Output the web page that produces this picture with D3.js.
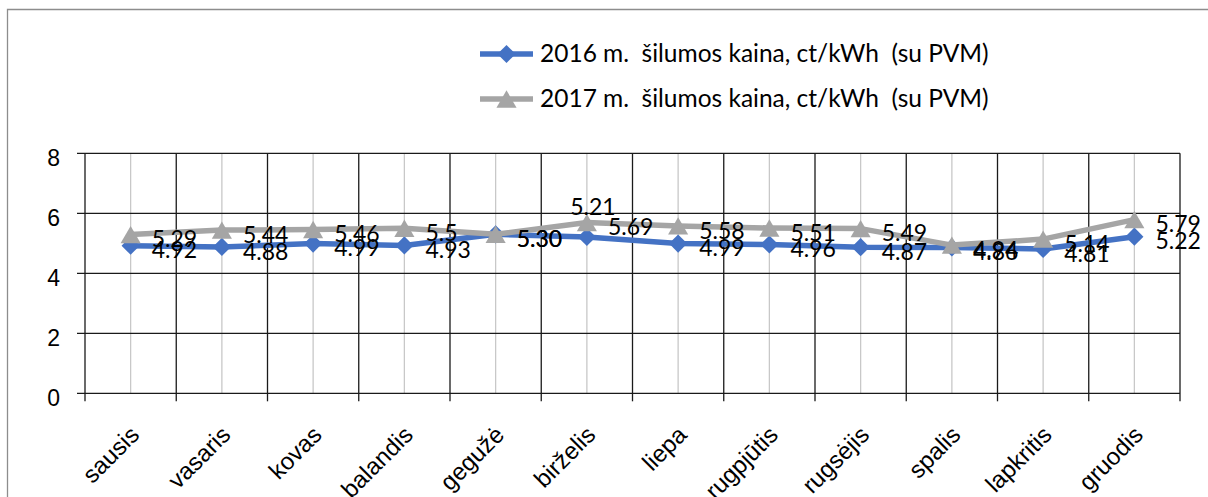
<!DOCTYPE html>
<html>
<head>
<meta charset="utf-8">
<script src="https://cdn.jsdelivr.net/npm/d3@7"></script>
<style>
    html, body { margin: 0; padding: 0; background: #fff; }
    svg { display: block; font-family: Lato, "Open Sans", sans-serif; }
</style>
</head>
<body>
<svg id="chart" width="1208" height="497"></svg>
<script>

// chart data
var months = ["sausis", "vasaris", "kovas", "balandis", "gegužė", "birželis",
              "liepa", "rugpjūtis", "rugsėjis", "spalis", "lapkritis", "gruodis"];
var price2016 = [4.92, 4.88, 4.99, 4.93, 5.30, 5.21, 4.99, 4.96, 4.87, 4.86, 4.81, 5.22];
var price2017 = [5.29, 5.44, 5.46, 5.5, 5.30, 5.69, 5.58, 5.51, 5.49, 4.94, 5.14, 5.79];
var labels2016 = ["4.92", "4.88", "4.99", "4.93", "5.30", "5.21", "4.99", "4.96", "4.87", "4.86", "4.81", "5.22"];
var labels2017 = ["5.29", "5.44", "5.46", "5.5", "5.30", "5.69", "5.58", "5.51", "5.49", "4.94", "5.14", "5.79"];
var yTicks = [0, 2, 4, 6, 8];
var seriesNames = ["2016 m.  šilumos kaina, ct/kWh  (su PVM)",
                   "2017 m.  šilumos kaina, ct/kWh  (su PVM)"];


var draw = {

    svg: null,
    x: null,
    y: null,

    // triangle centred on its bounding box (excel style)
    triangle: {
        draw: function (context, size) {
            var s = Math.sqrt(size * 4 / Math.sqrt(3));
            var h = s * Math.sqrt(3) / 2;
            context.moveTo(0, -h / 2);
            context.lineTo(s / 2, h / 2);
            context.lineTo(-s / 2, h / 2);
            context.closePath();
        }
    },

    index: function () {
        draw.svg = d3.select("#chart");
        draw.x = d3.scaleBand().domain(months).range([85, 1180]);
        draw.y = d3.scaleLinear().domain([0, 8]).range([393.3, 153.3]);

        draw.frame();
        draw.grid();
        draw.axes();

        var series = [
            {name: seriesNames[0], values: price2016, labels: labels2016, color: "#4472C4", marker: "diamond"},
            {name: seriesNames[1], values: price2017, labels: labels2017, color: "#A5A5A5", marker: "triangle"}
        ];
        series.forEach(function (s) { draw.series(s); });
        series.forEach(function (s) { draw.dataLabels(s); });
        draw.legend(series);
    },

    cx: function (m) {
        return draw.x(m) + draw.x.bandwidth() / 2;
    },

    frame: function () {
        draw.svg.append("path")
            .attr("d", "M7.5,497V9.5H1208")
            .attr("fill", "none")
            .attr("stroke", "#8d8d8d")
            .attr("stroke-width", 1.3);
    },

    grid: function () {
        var x = draw.x, y = draw.y;
        var top = y(8), bottom = y(0);

        // light lines at category centres
        draw.svg.append("g").selectAll("line")
            .data(months).enter().append("line")
            .attr("x1", draw.cx).attr("x2", draw.cx)
            .attr("y1", top).attr("y2", bottom)
            .attr("stroke", "#c8c8c8").attr("stroke-width", 1.3);

        // dark lines at category borders, with tick below the axis
        var borders = months.map(function (m) { return x(m); }).concat([x.range()[1]]);
        draw.svg.append("g").selectAll("line")
            .data(borders).enter().append("line")
            .attr("x1", function (d) { return d; }).attr("x2", function (d) { return d; })
            .attr("y1", top).attr("y2", bottom + 8)
            .attr("stroke", "#1a1a1a").attr("stroke-width", 1.3);

        // horizontal lines
        draw.svg.append("g").selectAll("line")
            .data(yTicks).enter().append("line")
            .attr("x1", x.range()[0] - 8).attr("x2", x.range()[1])
            .attr("y1", function (d) { return y(d); }).attr("y2", function (d) { return y(d); })
            .attr("stroke", "#1a1a1a").attr("stroke-width", 1.3);
    },

    axes: function () {
        var yAxis = draw.svg.append("g")
            .attr("transform", "translate(" + draw.x.range()[0] + ",0)")
            .call(d3.axisLeft(draw.y).tickValues(yTicks).tickSize(0).tickPadding(25));
        yAxis.select(".domain").remove();
        yAxis.selectAll("text")
            .attr("font-family", null)
            .attr("font-size", 23)
            .attr("fill", "#000")
            .attr("y", 5);

        var xAxis = draw.svg.append("g")
            .attr("transform", "translate(0," + draw.y(0) + ")")
            .call(d3.axisBottom(draw.x).tickSize(0));
        xAxis.select(".domain").remove();
        xAxis.selectAll("text")
            .attr("font-family", null)
            .attr("font-size", 24)
            .attr("fill", "#000")
            .attr("y", 0)
            .attr("dy", 0)
            .style("text-anchor", "end")
            .attr("transform", "translate(10,43) rotate(-45)");
    },

    symbolFor: function (marker) {
        if (marker === "diamond") {
            return d3.symbol().type(d3.symbolSquare).size(165);
        }
        return d3.symbol().type(draw.triangle).size(175);
    },

    series: function (s) {
        var line = d3.line()
            .x(function (d, i) { return draw.cx(months[i]); })
            .y(function (d) { return draw.y(d); });

        var g = draw.svg.append("g");
        g.append("path")
            .datum(s.values)
            .attr("d", line)
            .attr("fill", "none")
            .attr("stroke", s.color)
            .attr("stroke-width", 5.5)
            .attr("stroke-linejoin", "round");

        var sym = draw.symbolFor(s.marker);
        g.selectAll("path.mark")
            .data(s.values).enter().append("path")
            .attr("class", "mark")
            .attr("d", sym)
            .attr("fill", s.color)
            .attr("transform", function (d, i) {
                var t = "translate(" + draw.cx(months[i]) + "," + draw.y(d) + ")";
                return s.marker === "diamond" ? t + " rotate(45)" : t;
            });
    },

    dataLabels: function (s) {
        // labels excel placed above the point instead of right of it
        var above = s.marker === "diamond" ? ["birželis"] : [];

        draw.svg.append("g").selectAll("text")
            .data(s.values).enter().append("text")
            .attr("font-size", 23)
            .attr("fill", "#000")
            .attr("dy", "0.35em")
            .attr("text-anchor", function (d, i) { return above.indexOf(months[i]) >= 0 ? "middle" : "start"; })
            .attr("x", function (d, i) {
                return draw.cx(months[i]) + (above.indexOf(months[i]) >= 0 ? 6 : 21);
            })
            .attr("y", function (d, i) {
                return draw.y(d) + (above.indexOf(months[i]) >= 0 ? -30 : 4.7);
            })
            .text(function (d, i) { return s.labels[i]; });
    },

    legend: function (series) {
        var rows = draw.svg.append("g").selectAll("g")
            .data(series).enter().append("g")
            .attr("transform", function (d, i) { return "translate(0," + (54 + i * 45) + ")"; });

        rows.append("line")
            .attr("x1", 480).attr("x2", 533)
            .attr("stroke", function (d) { return d.color; })
            .attr("stroke-width", 5.5);

        rows.append("path")
            .attr("d", function (d) { return draw.symbolFor(d.marker)(); })
            .attr("fill", function (d) { return d.color; })
            .attr("transform", function (d) {
                return "translate(506.5,0)" + (d.marker === "diamond" ? " rotate(45)" : "");
            });

        rows.append("text")
            .attr("x", 540)
            .attr("y", -1)
            .attr("dy", "0.35em")
            .attr("font-size", 24.5)
            .style("white-space", "pre")
            .text(function (d) { return d.name; });
    }
};

draw.index();
</script>
</body>
</html>
